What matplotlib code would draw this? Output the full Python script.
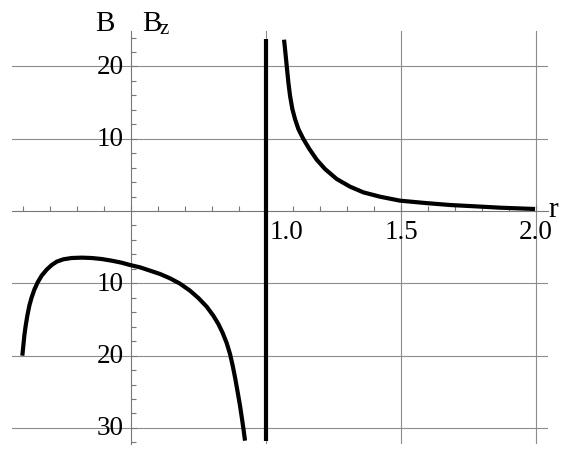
import matplotlib
matplotlib.use("Agg")
import matplotlib.pyplot as plt
import matplotlib.transforms as mtransforms
import numpy as np

# ---- data ----
left_r = [0.0975, 0.1012, 0.1049, 0.1099, 0.1160, 0.1235, 0.1321, 0.1420, 0.1543,
          0.1691, 0.1877, 0.2062, 0.2247, 0.2494, 0.2802, 0.3173, 0.3543, 0.3914,
          0.4284, 0.4654, 0.4963, 0.5333, 0.5704, 0.6074, 0.6444, 0.6815, 0.7185,
          0.7494, 0.7802, 0.8049, 0.8235, 0.8395, 0.8543, 0.8667, 0.8765, 0.8864,
          0.8951, 0.9037, 0.9111, 0.9173, 0.9222]
left_B = [-20.01, -18.63, -17.24, -15.86, -14.48, -13.09, -11.94, -10.88, -9.87,
          -8.94, -8.11, -7.47, -7.01, -6.68, -6.50, -6.45, -6.50, -6.64,
          -6.87, -7.15, -7.47, -7.79, -8.25, -8.71, -9.31, -10.05, -11.02,
          -12.03, -13.23, -14.48, -15.63, -16.87, -18.26, -19.78, -21.39, -23.24,
          -25.08, -26.93, -28.77, -30.38, -31.77]

right_r = [1.0667, 1.0704, 1.0741, 1.0778, 1.0827, 1.0889, 1.0975, 1.1074, 1.1198,
           1.1383, 1.1605, 1.1877, 1.2185, 1.2617, 1.3111, 1.3605, 1.4222, 1.4963,
           1.589, 1.6815, 1.774, 1.8667, 1.9963]
right_B = [23.70, 22.41, 21.02, 19.64, 17.80, 15.95, 14.11, 12.72, 11.34,
           9.96, 8.58, 7.10, 5.81, 4.43, 3.37, 2.58, 1.98, 1.43,
           1.11, 0.83, 0.65, 0.46, 0.28]

asym_r = [1.0, 1.0]
asym_B = [-31.8, 23.8]

x_ticks = [1.0, 1.5, 2.0]
x_tick_labels = ["1.0", "1.5", "2.0"]
y_ticks = [-30, -20, -10, 10, 20]
y_tick_labels = ["30", "20", "10", "10", "20"]

serif = 'Liberation Serif'

fig = plt.figure(figsize=(5.67, 4.52), dpi=100)
ax = fig.add_axes([12.2 / 567, (452 - 444.8) / 452, 536 / 567, (444.8 - 32) / 452])
ax.set_xlim(0.06, 2.045)
ax.set_ylim(-32.2, 24.9)

gray = '#8c8c8c'
for v in x_ticks:
    ax.axvline(v, color=gray, lw=0.8, zorder=1)
for h in [-30, -20, -10, 10, 20]:
    ax.axhline(h, color=gray, lw=0.8, zorder=1)

for s in ['top', 'right']:
    ax.spines[s].set_visible(False)
ax.spines['left'].set_position(('data', 0.5))
ax.spines['bottom'].set_position(('data', 0))
for s in ['left', 'bottom']:
    ax.spines[s].set_color('#777777')
    ax.spines[s].set_linewidth(0.8)

ax.set_xticks(x_ticks)
ax.set_xticklabels(x_tick_labels, fontfamily=serif, fontsize=19.5)
ax.set_yticks(y_ticks)
ax.set_yticklabels(y_tick_labels, fontfamily=serif, fontsize=19.5)
ax.set_xticks(np.arange(0.1, 2.01, 0.1), minor=True)
ax.set_yticks(np.arange(-32, 25, 2), minor=True)
ax.tick_params(axis='both', which='both', direction='in', color='#777777', width=0.8)
ax.tick_params(axis='both', which='major', length=4)
ax.tick_params(axis='both', which='minor', length=3.5)
ax.tick_params(axis='x', which='major', pad=6)
ax.tick_params(axis='y', which='major', pad=5)

# shift "1.0" label to the right like the reference; y labels slightly up
lbl = ax.get_xticklabels()[0]
off = mtransforms.ScaledTranslation(0.20, 0, fig.dpi_scale_trans)
lbl.set_transform(lbl.get_transform() + off)
yoff = mtransforms.ScaledTranslation(0, 0.03, fig.dpi_scale_trans)
for t in ax.get_yticklabels():
    t.set_transform(t.get_transform() + yoff)

kw = dict(color='black', lw=3.0, solid_capstyle='butt', solid_joinstyle='round', zorder=3, clip_on=False)
ax.plot(left_r, left_B, **kw)
ax.plot(right_r, right_B, **kw)
ax.plot(asym_r, asym_B, **kw)

fig.text(115 / 567, 1 - 31 / 452, 'B', fontfamily=serif, fontsize=21, ha='right', va='baseline')
fig.text(142 / 567, 1 - 31 / 452, 'B', fontfamily=serif, fontsize=21, ha='left', va='baseline')
fig.text(160 / 567, 1 - 34 / 452, 'z', fontfamily=serif, fontsize=15, ha='left', va='baseline')
fig.text(548 / 567, 1 - 217 / 452, 'r', fontfamily=serif, fontsize=21, ha='left', va='baseline')

fig.savefig('out.png', dpi=100)
